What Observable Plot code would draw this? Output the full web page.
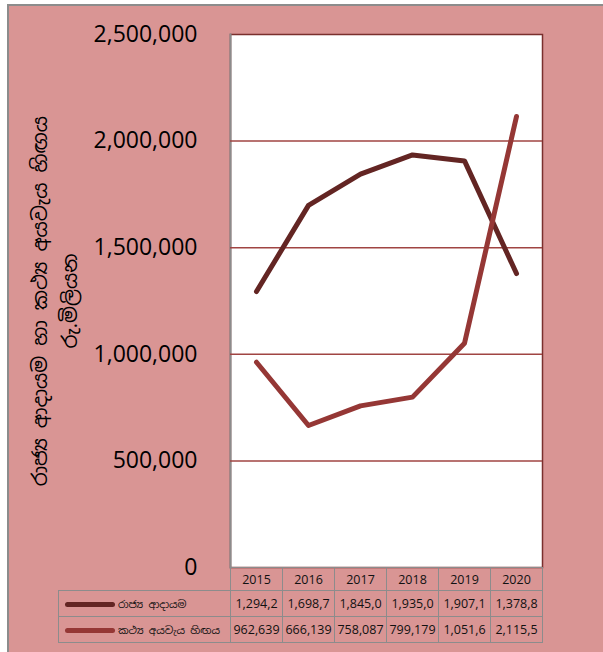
<!DOCTYPE html>
<html>
<head>
<meta charset="utf-8">
<script src="https://cdn.jsdelivr.net/npm/d3@7"></script>
<script src="https://cdn.jsdelivr.net/npm/@observablehq/plot@0.6"></script>
<style>
  html, body { margin: 0; padding: 0; background: #fff; }
  #wrap { position: relative; width: 603px; height: 652px; overflow: hidden; }
  #bg { position: absolute; left: 7px; top: 4px; width: 620px; height: 670px;
        background: #d99594; border-left: 2px solid #8c8c8c; border-top: 2px solid #8c8c8c; }
  #chart { position: absolute; left: 0; top: 0; }
  #chart svg { background: transparent; }
  table { position: absolute; left: 58px; top: 567px; border-collapse: collapse; table-layout: fixed;
          width: 485px; box-sizing: border-box;
          font-family: "Open Sans", "Noto Sans", sans-serif; font-size: 12.5px; color: #111; }
  td { border: 1.5px solid #8c8c8c; padding: 0; text-align: center; height: 25px; overflow: hidden; white-space: nowrap; }
  td.name { text-align: left; }
  td.blank { border-top: none; border-left: none; }
  tr.head td { height: 22px; }
  .sw { display: inline-block; width: 50px; height: 5px; border-radius: 3px; vertical-align: middle;
        margin: 0 3px 0 6px; }
</style>
</head>
<body>
<div id="wrap">
  <div id="bg"></div>
  <div id="chart"></div>
</div>
<script>
const years = ["2015", "2016", "2017", "2018", "2019", "2020"];
const revenue = [1294200, 1698700, 1845000, 1935000, 1907100, 1378800];
const deficit = [962639, 666139, 758087, 799179, 1051600, 2115500];
const seriesNames = ["රාජ්‍ය ආදායම", "කථ්‍ය අයවැය හිඟය"];
const seriesColors = ["#632523", "#953735"];
const yTicks = [0, 500000, 1000000, 1500000, 2000000, 2500000];
const gridTicks = [500000, 1000000, 1500000, 2000000];
const axisTitle = ["රාජ්‍ය ආදායම හා කථ්‍ය අයවැය හිඟය", "රු.මිලියන"];

const rows = [];
years.forEach((yr, i) => {
  rows.push({year: yr, value: revenue[i], series: seriesNames[0]});
  rows.push({year: yr, value: deficit[i], series: seriesNames[1]});
});

const sinhala = "'Noto Sans Sinhala', 'Iskoola Pota', 'Noto Sans', sans-serif";

const plot = Plot.plot({
  width: 603,
  height: 585,
  marginLeft: 230,
  marginRight: 61,
  marginTop: 34,
  marginBottom: 18,
  style: {background: "transparent", fontFamily: "'Open Sans', sans-serif"},
  x: {type: "band", domain: years, padding: 0, axis: null},
  y: {domain: [0, 2500000], axis: null},
  color: {domain: seriesNames, range: seriesColors},
  marks: [
    Plot.frame({fill: "white", stroke: "#7a2f2d", strokeWidth: 1.5}),
    Plot.frame({anchor: "left", stroke: "#8c8c8c", strokeWidth: 2}),
    Plot.ruleY(gridTicks, {stroke: "#a04442", strokeWidth: 1.5}),
    Plot.axisY(yTicks, {tickSize: 0, tickPadding: 33, fontSize: 23, fill: "#000",
      tickFormat: d3.format(","), label: null}),
    Plot.line(rows, {x: "year", y: "value", z: "series", stroke: "series",
      strokeWidth: 5, strokeLinecap: "round", strokeLinejoin: "round"}),
    Plot.text([axisTitle[0]], {frameAnchor: "left", textAnchor: "middle", rotate: -90,
      dx: -190, fontSize: 20, fontFamily: sinhala, fill: "#000"}),
    Plot.text([axisTitle[1]], {frameAnchor: "left", textAnchor: "middle", rotate: -90,
      dx: -160, fontSize: 20, fontFamily: sinhala, fill: "#000"})
  ]
});
document.getElementById("chart").appendChild(plot);

// data table below the plot
const fmt = v => d3.format(",")(v).slice(0, 7);
const table = document.createElement("table");
let html = '<colgroup><col style="width:172px">' + years.map(() => '<col style="width:52px">').join("") + "</colgroup>";
html += '<tr class="head"><td class="name blank"></td>' + years.map(y => `<td>${y}</td>`).join("") + "</tr>";
[revenue, deficit].forEach((vals, k) => {
  html += `<tr><td class="name"><span class="sw" style="background:${seriesColors[k]}"></span>` +
    `<span style="font-family:${sinhala.replace(/"/g, "")};font-size:10.5px">${seriesNames[k]}</span></td>` +
    vals.map(v => `<td>${fmt(v)}</td>`).join("") + "</tr>";
});
table.innerHTML = html;
document.getElementById("wrap").appendChild(table);
</script>
</body>
</html>
